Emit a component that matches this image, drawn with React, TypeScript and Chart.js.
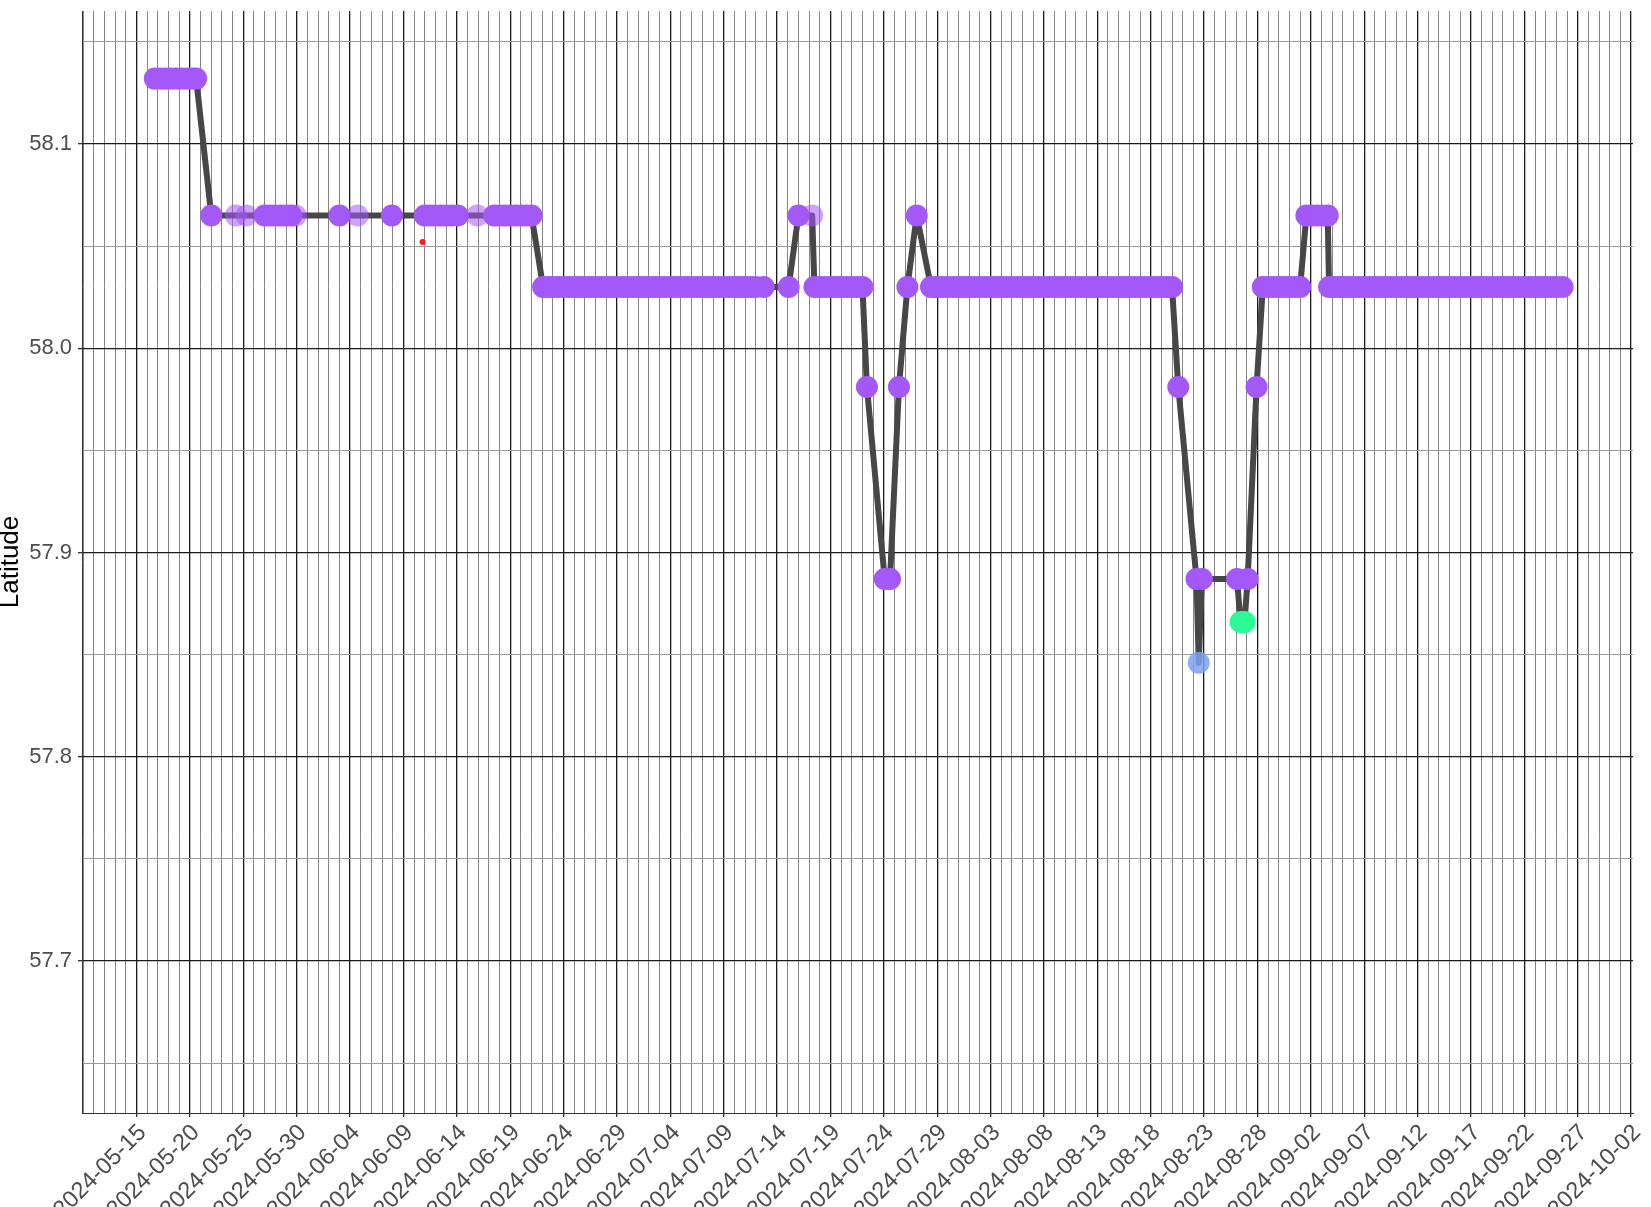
import React, { useEffect, useRef } from 'react';
import { Chart, registerables } from 'chart.js';

Chart.register(...registerables);

// ---------- DATA (observation times grouped by latitude level) ----------
const times58132: string[] = [
  '2024-05-16T17:00', '2024-05-17T05:00', '2024-05-17T17:00', '2024-05-18T05:00', '2024-05-18T17:00',
  '2024-05-19T05:00', '2024-05-19T17:00', '2024-05-20T05:00', '2024-05-20T14:00',
];

const times58065: string[] = [
  '2024-05-22T00:00', '2024-05-24T07:00', '2024-05-25T07:00',
  '2024-05-27T00:00', '2024-05-27T12:00', '2024-05-28T00:00', '2024-05-28T12:00', '2024-05-29T00:00', '2024-05-29T12:00',
  '2024-05-29T22:00', '2024-06-03T00:00', '2024-06-04T17:00', '2024-06-07T22:00',
  '2024-06-11T00:00', '2024-06-11T12:00', '2024-06-12T00:00', '2024-06-12T12:00', '2024-06-13T00:00', '2024-06-13T12:00',
  '2024-06-14T02:00', '2024-06-15T22:00',
  '2024-06-17T12:00', '2024-06-18T00:00', '2024-06-18T12:00', '2024-06-19T00:00', '2024-06-19T12:00', '2024-06-20T00:00',
  '2024-06-20T12:00', '2024-06-21T00:00',
  '2024-07-16T00:00', '2024-07-17T07:00', '2024-07-27T02:00',
  '2024-09-01T14:00', '2024-09-02T02:00', '2024-09-02T14:00', '2024-09-03T02:00', '2024-09-03T14:00',
];

const times58030: string[] = [
  '2024-06-22T02:00', '2024-06-22T14:00',
  '2024-06-23T00:00', '2024-06-23T12:00', '2024-06-24T00:00', '2024-06-24T12:00', '2024-06-25T00:00', '2024-06-25T12:00',
  '2024-06-26T00:00', '2024-06-26T12:00', '2024-06-27T00:00', '2024-06-27T12:00', '2024-06-28T00:00', '2024-06-28T12:00',
  '2024-06-29T00:00', '2024-06-29T12:00', '2024-06-30T00:00', '2024-06-30T12:00', '2024-07-01T00:00', '2024-07-01T12:00',
  '2024-07-02T00:00', '2024-07-02T12:00', '2024-07-03T00:00', '2024-07-03T12:00', '2024-07-04T00:00', '2024-07-04T12:00',
  '2024-07-05T00:00', '2024-07-05T12:00', '2024-07-06T00:00', '2024-07-06T12:00', '2024-07-07T00:00', '2024-07-07T12:00',
  '2024-07-08T00:00', '2024-07-08T12:00', '2024-07-09T00:00', '2024-07-09T12:00', '2024-07-10T00:00', '2024-07-10T12:00',
  '2024-07-11T00:00', '2024-07-11T12:00', '2024-07-12T00:00', '2024-07-12T18:00',
  '2024-07-15T02:00',
  '2024-07-17T12:00', '2024-07-18T00:00', '2024-07-18T12:00', '2024-07-19T00:00', '2024-07-19T12:00', '2024-07-20T00:00',
  '2024-07-20T12:00', '2024-07-21T00:00', '2024-07-21T12:00', '2024-07-22T00:00',
  '2024-07-26T05:00',
  '2024-07-28T10:00', '2024-07-28T22:00',
  '2024-07-29T00:00', '2024-07-29T12:00', '2024-07-30T00:00', '2024-07-30T12:00', '2024-07-31T00:00', '2024-07-31T12:00',
  '2024-08-01T00:00', '2024-08-01T12:00', '2024-08-02T00:00', '2024-08-02T12:00', '2024-08-03T00:00', '2024-08-03T12:00',
  '2024-08-04T00:00', '2024-08-04T12:00', '2024-08-05T00:00', '2024-08-05T12:00', '2024-08-06T00:00', '2024-08-06T12:00',
  '2024-08-07T00:00', '2024-08-07T12:00', '2024-08-08T00:00', '2024-08-08T12:00', '2024-08-09T00:00', '2024-08-09T12:00',
  '2024-08-10T00:00', '2024-08-10T12:00', '2024-08-11T00:00', '2024-08-11T12:00', '2024-08-12T00:00', '2024-08-12T12:00',
  '2024-08-13T00:00', '2024-08-13T12:00', '2024-08-14T00:00', '2024-08-14T12:00', '2024-08-15T00:00', '2024-08-15T12:00',
  '2024-08-16T00:00', '2024-08-16T12:00', '2024-08-17T00:00', '2024-08-17T12:00', '2024-08-18T00:00', '2024-08-18T12:00',
  '2024-08-19T00:00', '2024-08-19T12:00', '2024-08-20T00:00',
  '2024-08-28T12:00', '2024-08-29T00:00', '2024-08-29T12:00', '2024-08-30T00:00', '2024-08-30T12:00', '2024-08-31T00:00',
  '2024-08-31T12:00', '2024-09-01T00:00',
  '2024-09-03T17:00', '2024-09-04T05:00', '2024-09-04T17:00',
  '2024-09-05T00:00', '2024-09-05T12:00', '2024-09-06T00:00', '2024-09-06T12:00', '2024-09-07T00:00', '2024-09-07T12:00',
  '2024-09-08T00:00', '2024-09-08T12:00', '2024-09-09T00:00', '2024-09-09T12:00', '2024-09-10T00:00', '2024-09-10T12:00',
  '2024-09-11T00:00', '2024-09-11T12:00', '2024-09-12T00:00', '2024-09-12T12:00', '2024-09-13T00:00', '2024-09-13T12:00',
  '2024-09-14T00:00', '2024-09-14T12:00', '2024-09-15T00:00', '2024-09-15T12:00', '2024-09-16T00:00', '2024-09-16T12:00',
  '2024-09-17T00:00', '2024-09-17T12:00', '2024-09-18T00:00', '2024-09-18T12:00', '2024-09-19T00:00', '2024-09-19T12:00',
  '2024-09-20T00:00', '2024-09-20T12:00', '2024-09-21T00:00', '2024-09-21T12:00', '2024-09-22T00:00', '2024-09-22T12:00',
  '2024-09-23T00:00', '2024-09-23T12:00', '2024-09-24T00:00', '2024-09-24T12:00', '2024-09-25T00:00', '2024-09-25T14:00',
];

const times57981: string[] = ['2024-07-22T10:00', '2024-07-25T10:00', '2024-08-20T14:00', '2024-08-27T22:00'];
const times57887: string[] = [
  '2024-07-24T02:00', '2024-07-24T14:00', '2024-08-22T07:00', '2024-08-22T19:00', '2024-08-26T02:00', '2024-08-27T02:00',
];
const times57866: string[] = ['2024-08-26T10:00', '2024-08-26T19:00'];
const times57846: string[] = ['2024-08-22T12:00'];

// fixes drawn faint
const faintTimes: string[] = [
  '2024-05-24T07:00', '2024-05-25T07:00', '2024-05-29T22:00', '2024-06-04T17:00', '2024-06-15T22:00', '2024-07-17T07:00',
];

const levelValues: number[] = [58.132, 58.065, 58.03, 57.981, 57.887, 57.866, 57.846];
const levelTimes: string[][] = [times58132, times58065, times58030, times57981, times57887, times57866, times57846];
const levelColors: string[] = ['purple', 'purple', 'purple', 'purple', 'purple', 'green', 'blue'];

const markerTimes: string[] = ['2024-06-10T19:00'];
const markerLatitudes: number[] = [58.052];

const xTickLabels: string[] = [
  '2024-05-15', '2024-05-20', '2024-05-25', '2024-05-30', '2024-06-04', '2024-06-09', '2024-06-14', '2024-06-19',
  '2024-06-24', '2024-06-29', '2024-07-04', '2024-07-09', '2024-07-14', '2024-07-19', '2024-07-24', '2024-07-29',
  '2024-08-03', '2024-08-08', '2024-08-13', '2024-08-18', '2024-08-23', '2024-08-28', '2024-09-02', '2024-09-07',
  '2024-09-12', '2024-09-17', '2024-09-22', '2024-09-27', '2024-10-02',
];
const yTickLabels: number[] = [57.7, 57.8, 57.9, 58.0, 58.1];
const yMinorGrid: number[] = [57.65, 57.75, 57.85, 57.95, 58.05, 58.15];

// ---------- HELPERS ----------
const DAY_MS = 86400000;
const ORIGIN = Date.UTC(2024, 4, 15);
const toDay = (s: string) => (Date.parse((s.length === 10 ? s + 'T00:00' : s) + ':00Z') - ORIGIN) / DAY_MS;

const X_MIN = -5.11;
const X_MAX = 140.18;
const Y_MIN = 57.6256;
const Y_MAX = 58.1651;

const colorMap: Record<string, string> = {
  purple: 'rgba(164,88,248,1)',
  purpleFaint: 'rgba(164,88,248,0.55)',
  blue: 'rgba(125,162,245,0.85)',
  green: 'rgba(44,250,150,1)',
};

const FONT = "'Liberation Sans', Arial, sans-serif";

export default function App() {
  const ref = useRef<HTMLCanvasElement | null>(null);

  useEffect(() => {
    if (!ref.current) return;
    const faintSet = new Set(faintTimes);
    const rows: { x: number; y: number; c: string }[] = [];
    levelTimes.forEach((list, li) => {
      list.forEach((t) => {
        const base = levelColors[li];
        const c = base === 'purple' && faintSet.has(t) ? colorMap.purpleFaint : colorMap[base];
        rows.push({ x: toDay(t), y: levelValues[li], c });
      });
    });
    rows.sort((a, b) => a.x - b.x);
    const pts = rows.map((r) => ({ x: r.x, y: r.y }));
    const colors = rows.map((r) => r.c);
    const red = markerTimes.map((t, i) => ({ x: toDay(t), y: markerLatitudes[i] }));

    const majorDays = new Map<number, string>();
    xTickLabels.forEach((lab) => majorDays.set(Math.round(toDay(lab)), lab));
    const xGrid: number[] = [];
    for (let d = Math.ceil(X_MIN); d <= Math.floor(X_MAX); d++) xGrid.push(d);
    const yGrid = [...yTickLabels, ...yMinorGrid].sort((a, b) => a - b);

    const isXMajor = (v: number) => majorDays.has(Math.round(v));
    const isYMajor = (v: number) => yTickLabels.some((t) => Math.abs(t - v) < 1e-6);

    const chart = new Chart(ref.current, {
      type: 'scatter',
      data: {
        datasets: [
          {
            type: 'line',
            data: pts,
            showLine: true,
            borderColor: '#474747',
            borderWidth: 6,
            pointRadius: 0,
            borderJoinStyle: 'round',
            borderCapStyle: 'round',
            tension: 0,
            order: 3,
          } as any,
          {
            type: 'scatter',
            data: pts,
            pointRadius: 11,
            pointBackgroundColor: colors,
            pointBorderWidth: 0,
            pointBorderColor: 'rgba(0,0,0,0)',
            order: 2,
          } as any,
          {
            type: 'scatter',
            data: red,
            pointRadius: 3,
            pointBackgroundColor: '#ff1a1a',
            pointBorderWidth: 0,
            pointBorderColor: 'rgba(0,0,0,0)',
            order: 1,
          } as any,
        ],
      },
      options: {
        animation: false,
        responsive: false,
        devicePixelRatio: 1,
        events: [],
        layout: { padding: { left: 0, top: 7, right: 18, bottom: 0 } },
        plugins: { legend: { display: false }, tooltip: { enabled: false } },
        scales: {
          x: {
            type: 'linear',
            min: X_MIN,
            max: X_MAX,
            afterBuildTicks: (s: any) => {
              s.ticks = xGrid.map((v) => ({ value: v }));
            },
            afterFit: (s: any) => {
              s.height = 94;
              s.paddingLeft = 0;
              s.paddingRight = 0;
            },
            ticks: {
              autoSkip: false,
              minRotation: 45,
              maxRotation: 45,
              padding: 2,
              labelOffset: 6,
              color: '#4d4d4d',
              font: { family: FONT, size: 23.5 },
              callback: (v: any) => majorDays.get(Math.round(Number(v))) ?? '',
            },
            grid: {
              color: (c: any) => (isXMajor(c.tick.value) ? '#1a1a1a' : '#858585'),
              lineWidth: (c: any) => (isXMajor(c.tick.value) ? 1.3 : 1),
              tickColor: (c: any) => (isXMajor(c.tick.value) ? '#333333' : 'rgba(0,0,0,0)'),
              tickLength: 4,
            },
            border: { display: true, color: '#333333', width: 1 },
          },
          y: {
            type: 'linear',
            min: Y_MIN,
            max: Y_MAX,
            afterBuildTicks: (s: any) => {
              s.ticks = yGrid.map((v) => ({ value: v }));
            },
            afterFit: (s: any) => {
              s.width = 82;
              s.paddingTop = 0;
              s.paddingBottom = 0;
            },
            ticks: {
              autoSkip: false,
              padding: 6,
              color: '#4d4d4d',
              font: { family: FONT, size: 22 },
              callback: (v: any) => (isYMajor(Number(v)) ? Number(v).toFixed(1) : ''),
            },
            grid: {
              color: (c: any) => (isYMajor(c.tick.value) ? '#1a1a1a' : '#9a9a9a'),
              lineWidth: (c: any) => (isYMajor(c.tick.value) ? 1.3 : 1),
              tickColor: (c: any) => (isYMajor(c.tick.value) ? '#333333' : 'rgba(0,0,0,0)'),
              tickLength: 4,
            },
            border: { display: true, color: '#333333', width: 1 },
            title: {
              display: true,
              text: 'Latitude',
              color: '#000000',
              font: { family: FONT, size: 26, lineHeight: 0.85 },
              padding: 0,
            },
          },
        },
      } as any,
    });
    return () => chart.destroy();
  }, []);

  return (
    <div style={{ position: 'absolute', left: 0, top: 0, width: 1651, height: 1207, background: '#ffffff' }}>
      <canvas ref={ref} width={1651} height={1207} style={{ display: 'block' }} />
    </div>
  );
}
